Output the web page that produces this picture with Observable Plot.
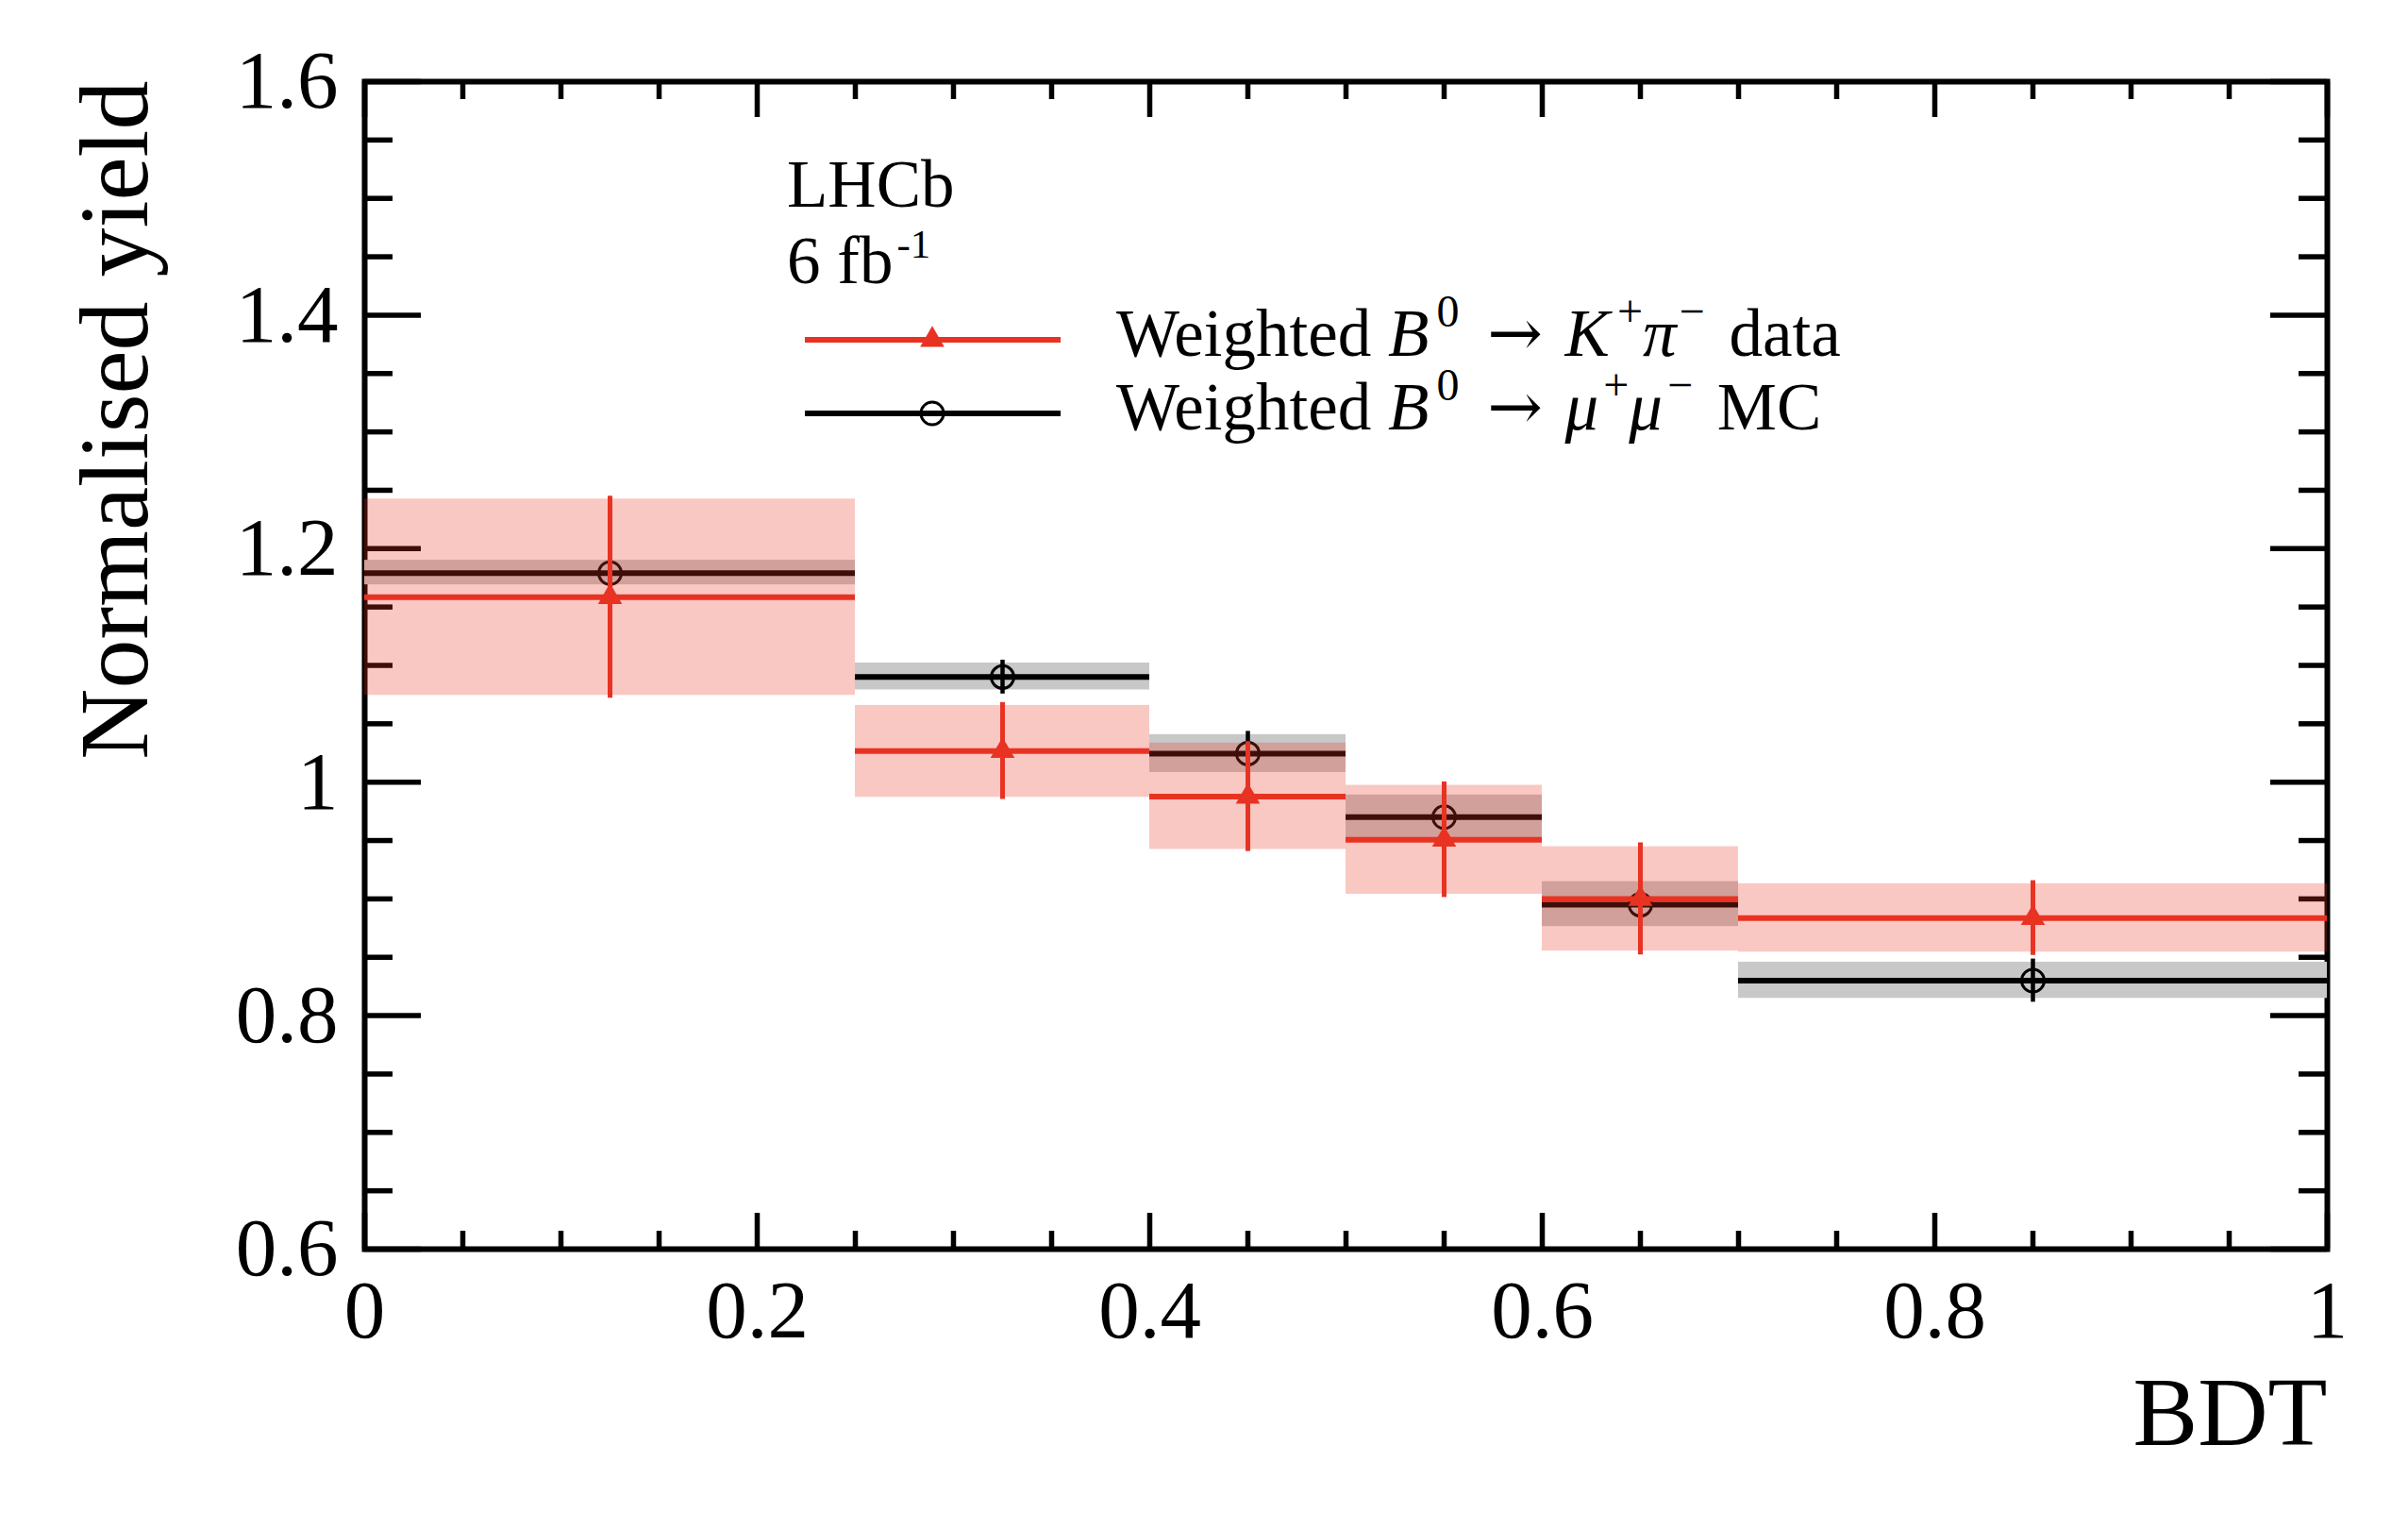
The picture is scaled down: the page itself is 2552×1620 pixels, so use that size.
<!DOCTYPE html>
<html>
<head>
<meta charset="utf-8">
<script src="https://cdn.jsdelivr.net/npm/d3@7"></script>
<script src="https://cdn.jsdelivr.net/npm/@observablehq/plot@0.6"></script>
<style>
html, body { margin: 0; padding: 0; background: #fff; overflow: hidden; }
</style>
</head>
<body>
<div id="chart"></div>
<script>
// ---- data ----
const binLo = [0.00, 0.25, 0.40, 0.50, 0.60, 0.70];
const binHi = [0.25, 0.40, 0.50, 0.60, 0.70, 1.00];
const binCenter = [0.125, 0.325, 0.45, 0.55, 0.65, 0.85];

// Weighted B0 -> mu+ mu- MC (black, open circles)
const mcValue  = [1.179, 1.090, 1.0245, 0.970, 0.895, 0.830];
const mcErr    = [0.009, 0.0145, 0.019, 0.009, 0.010, 0.0185];
const mcBandLo = [1.169, 1.079, 1.0083, 0.9515, 0.8763, 0.8148];
const mcBandHi = [1.190, 1.102, 1.0407, 0.989, 0.9148, 0.8458];

// Weighted B0 -> K+ pi- data (red, triangles)
const dataValue  = [1.1585, 1.0267, 0.9876, 0.9507, 0.900, 0.8836];
const dataErr    = [0.0865, 0.0415, 0.047, 0.0495, 0.048, 0.032];
const dataBandLo = [1.0743, 0.987, 0.9424, 0.904, 0.8553, 0.8544];
const dataBandHi = [1.2425, 1.0657, 1.0334, 0.9973, 0.9447, 0.913];

const xTicksMajor = [0, 0.2, 0.4, 0.6, 0.8, 1];
const xTicksMinor = [0.05, 0.1, 0.15, 0.25, 0.3, 0.35, 0.45, 0.5, 0.55, 0.65, 0.7, 0.75, 0.85, 0.9, 0.95];
const yTicksMajor = [0.6, 0.8, 1.0, 1.2, 1.4, 1.6];
const yTicksMinor = [0.65, 0.7, 0.75, 0.85, 0.9, 0.95, 1.05, 1.1, 1.15, 1.25, 1.3, 1.35, 1.45, 1.5, 1.55];

const xTitle = "BDT";
const yTitle = "Normalised yield";
const expLines = ["LHCb", "6 fb"];
const lumiExp = "-1";
const legendRows = [
  [{t: "Weighted "}, {t: "B", i: true}, {t: "0", s: true, dx: 8}, {t: " "}, {t: "\u2192", a: true, dx: 12}, {t: " ", dx: 6}, {t: "K", i: true}, {t: "+", s: true, dx: 8}, {t: "\u03c0", i: true}, {t: "\u2212", s: true, dx: 3}, {t: " data", dx: 8}],
  [{t: "Weighted "}, {t: "B", i: true}, {t: "0", s: true, dx: 8}, {t: " "}, {t: "\u2192", a: true, dx: 12}, {t: " ", dx: 6}, {t: "\u03bc", i: true}, {t: "+", s: true, dx: 5}, {t: "\u03bc", i: true}, {t: "\u2212", s: true, dx: 5}, {t: " MC", dx: 8}]
];

// ---- layout / style ----
const W = 2552, H = 1620;
const M = {left: 386, right: 86, top: 86, bottom: 297};
const innerW = W - M.left - M.right;
const innerH = H - M.top - M.bottom;
const RED = "#e83323";
const GREY = "#c8c8c8";
const FONT = "'Liberation Serif', 'Times New Roman', Times, serif";
const idx = d3.range(binLo.length);
const TW = 5.5;

const plot = Plot.plot({
  width: W, height: H,
  marginLeft: M.left, marginRight: M.right, marginTop: M.top, marginBottom: M.bottom,
  x: {domain: [0, 1]},
  y: {domain: [0.6, 1.6]},
  style: {fontFamily: FONT, background: "#fff", color: "#000"},
  marks: [
    // ticks (inward, all four sides)
    Plot.ruleX(xTicksMinor, {x: d => d, insetTop: innerH - 19, stroke: "#000", strokeWidth: TW}),
    Plot.ruleX(xTicksMajor, {x: d => d, insetTop: innerH - 38, stroke: "#000", strokeWidth: TW}),
    Plot.ruleX(xTicksMinor, {x: d => d, insetBottom: innerH - 19, stroke: "#000", strokeWidth: TW}),
    Plot.ruleX(xTicksMajor, {x: d => d, insetBottom: innerH - 38, stroke: "#000", strokeWidth: TW}),
    Plot.ruleY(yTicksMinor, {y: d => d, insetRight: innerW - 30, stroke: "#000", strokeWidth: TW}),
    Plot.ruleY(yTicksMajor, {y: d => d, insetRight: innerW - 60, stroke: "#000", strokeWidth: TW}),
    Plot.ruleY(yTicksMinor, {y: d => d, insetLeft: innerW - 30, stroke: "#000", strokeWidth: TW}),
    Plot.ruleY(yTicksMajor, {y: d => d, insetLeft: innerW - 60, stroke: "#000", strokeWidth: TW}),
    Plot.frame({stroke: "#000", strokeWidth: 6}),
    Plot.axisX({ticks: xTicksMajor, tickSize: 0, tickPadding: 32, fontSize: 87, label: null, tickFormat: d => String(+d.toFixed(2))}),
    Plot.axisY({ticks: yTicksMajor, tickSize: 0, tickPadding: 28, fontSize: 87, label: null, tickFormat: d => String(+d.toFixed(2))}),
    Plot.text([xTitle], {text: d => d, frameAnchor: "bottom-right", textAnchor: "end", lineAnchor: "bottom", dy: 207, fontSize: 103}),
    Plot.text([yTitle], {text: d => d, frameAnchor: "top-left", rotate: -90, textAnchor: "end", lineAnchor: "bottom", dx: -231, dy: -1, fontSize: 104}),

    // MC (black)
    Plot.rect(idx, {x1: i => binLo[i], x2: i => binHi[i], y1: i => mcBandLo[i], y2: i => mcBandHi[i], fill: GREY}),
    Plot.ruleY(idx, {y: i => mcValue[i], x1: i => binLo[i], x2: i => binHi[i], stroke: "#000", strokeWidth: 6}),
    Plot.ruleX(idx, {x: i => binCenter[i], y1: i => mcValue[i] - mcErr[i], y2: i => mcValue[i] + mcErr[i], stroke: "#000", strokeWidth: 4.5}),
    Plot.dot(idx, {x: i => binCenter[i], y: i => mcValue[i], r: 12, stroke: "#000", strokeWidth: 3, fill: "none"}),

    // data (red)
    Plot.rect(idx, {x1: i => binLo[i], x2: i => binHi[i], y1: i => dataBandLo[i], y2: i => dataBandHi[i], fill: RED, fillOpacity: 0.27}),
    Plot.ruleY(idx, {y: i => dataValue[i], x1: i => binLo[i], x2: i => binHi[i], stroke: RED, strokeWidth: 6}),
    Plot.ruleX(idx, {x: i => binCenter[i], y1: i => dataValue[i] - dataErr[i], y2: i => dataValue[i] + dataErr[i], stroke: RED, strokeWidth: 5}),
    Plot.dot(idx, {x: i => binCenter[i], y: i => dataValue[i], r: 9.5, symbol: "triangle", fill: RED, stroke: "none"})
  ]
});

document.getElementById("chart").appendChild(plot);

// ---- annotation + legend (inside the frame) ----
const svg = d3.select(plot);
const g = svg.append("g").attr("font-family", FONT).attr("fill", "#000").attr("text-anchor", "start");
const TX = 834;
g.append("text").attr("x", TX).attr("y", 219).attr("font-size", 71).text(expLines[0]);
const lt = g.append("text").attr("x", TX).attr("y", 300).attr("font-size", 71);
lt.append("tspan").text(expLines[1]);
lt.append("tspan").attr("dx", 4).attr("dy", -27).attr("font-size", 43).text(lumiExp);

const rowBase = [377, 455];
const rowLine = [360, 438];
const SUP = 31;
legendRows.forEach((parts, r) => {
  const t = g.append("text").attr("x", 1183).attr("y", rowBase[r]).attr("font-size", 71);
  let up = false;
  parts.forEach(p => {
    const ts = t.append("tspan").text(p.t);
    if (p.i) ts.attr("font-style", "italic");
    if (p.a) ts.attr("font-family", "'DejaVu Serif', serif").attr("font-size", 70);
    if (p.dx) ts.attr("dx", p.dx);
    if (p.s) {
      ts.attr("font-size", 48);
      if (!up) { ts.attr("dy", -SUP); up = true; }
    } else if (up) {
      ts.attr("dy", SUP); up = false;
    }
  });
});
// samples
g.append("line").attr("x1", 853).attr("x2", 1124).attr("y1", rowLine[0]).attr("y2", rowLine[0]).attr("stroke", RED).attr("stroke-width", 6);
g.append("path").attr("d", d3.symbol(d3.symbolTriangle, Math.PI * 9.5 * 9.5)()).attr("transform", `translate(988,${rowLine[0]})`).attr("fill", RED);
g.append("line").attr("x1", 853).attr("x2", 1124).attr("y1", rowLine[1]).attr("y2", rowLine[1]).attr("stroke", "#000").attr("stroke-width", 6);
g.append("circle").attr("cx", 988).attr("cy", rowLine[1]).attr("r", 12).attr("fill", "none").attr("stroke", "#000").attr("stroke-width", 3);
</script>
</body>
</html>
